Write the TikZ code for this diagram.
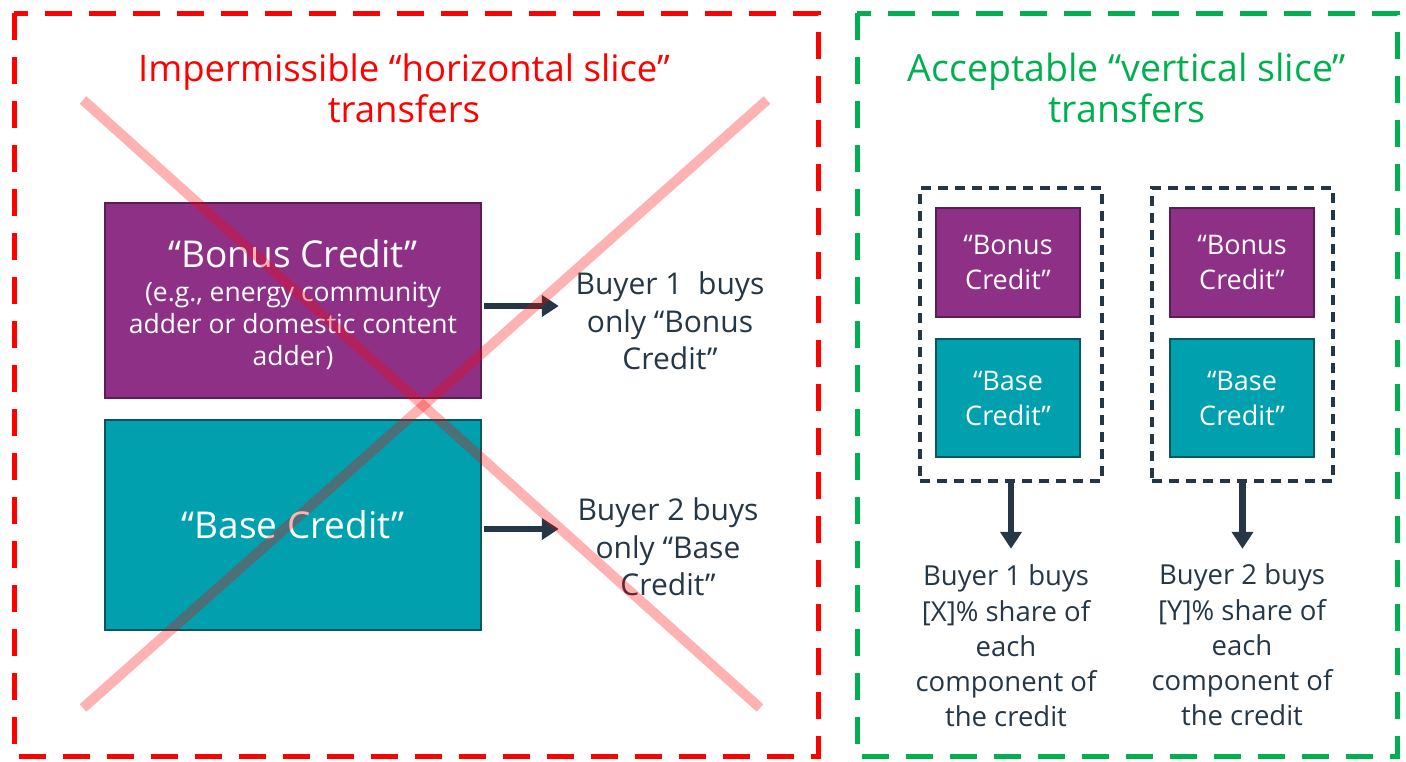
\documentclass[tikz,border=0pt]{standalone}
\usepackage{fontspec}
\setmainfont{Open Sans}
\usetikzlibrary{arrows.meta}
\definecolor{credpurple}{RGB}{143,48,135}
\definecolor{purpleedge}{RGB}{90,30,85}
\definecolor{credteal}{RGB}{0,160,175}
\definecolor{tealedge}{RGB}{10,85,95}
\definecolor{navy}{RGB}{37,55,70}
\definecolor{okgreen}{RGB}{0,176,80}
\tikzset{
  frame/.style={line width=5pt, dash pattern=on 27pt off 17pt},
  innerframe/.style={draw=navy, line width=3.5pt, dash pattern=on 10pt off 7pt},
  bonusbox/.style={draw=purpleedge, line width=1.5pt, fill=credpurple, text=white, align=center, inner sep=0pt},
  basebox/.style={draw=tealedge, line width=1.5pt, fill=credteal, text=white, align=center, inner sep=0pt},
  label/.style={text=navy, align=center, inner sep=0pt},
  flow/.style={draw=navy, line width=6.5pt, -{Triangle[length=17pt,width=21pt]}},
  cross/.style={draw=red, line width=10pt, opacity=0.3}
}
\begin{document}
\begin{tikzpicture}[x=1pt,y=-1pt]
\useasboundingbox (0,0) rectangle (1406,761);
% outer frames
\draw[frame, draw=red] (14,13) rectangle (818,756);
\draw[frame, draw=okgreen] (857,13) rectangle (1397,756);

% titles
\node[text=red, align=center, font=\fontsize{36.5}{41}\selectfont] (ttlA) at (404,88)
  {Impermissible “horizontal slice”\\transfers};
\node[text=okgreen, align=center, font=\fontsize{37.5}{41}\selectfont] (ttlB) at (1127,88)
  {Acceptable “vertical slice”\\transfers};

% horizontal slices
\node[bonusbox, minimum width=376pt, minimum height=195pt] (bonus) at (293,300.5) {};
\node[text=white, align=center, font=\fontsize{37}{42}\selectfont] (bonusT) at (293,254) {“Bonus Credit”};
\node[text=white, align=center, font=\fontsize{26.5}{32}\selectfont] (bonusS) at (293,325.5)
  {(e.g., energy community\\adder or domestic content\\adder)};
\node[basebox, minimum width=376pt, minimum height=210pt, font=\fontsize{37}{40}\selectfont] (base) at (293,525) {“Base Credit”};

\node[label, font=\fontsize{30}{37.5}\selectfont] (buy1) at (670,321) {Buyer 1~ buys\\only “Bonus\\Credit”};
\node[label, font=\fontsize{30}{37.5}\selectfont] (buy2) at (668,547) {Buyer 2 buys\\only “Base\\Credit”};

\draw[flow] (bonus.east) ++(2,5.5) -- ++(75,0);
\draw[flow] (base.east) ++(2,4) -- ++(75,0);

% the cross over the slices
\draw[cross] (83,100) coordinate (x1) -- (760,708) coordinate (x2);
\draw[cross] (767,100) coordinate (x3) -- (83,708) coordinate (x4);

% vertical slices
\node[innerframe, minimum width=182pt, minimum height=293pt] (grp1) at (1011,334.5) {};
\node[innerframe, minimum width=181pt, minimum height=293pt] (grp2) at (1242.5,334.5) {};

\node[bonusbox, minimum width=144pt, minimum height=109pt, font=\fontsize{27}{35}\selectfont] (bonus1) at (1008,262.5) {“Bonus\\Credit”};
\node[basebox, minimum width=144pt, minimum height=118pt, font=\fontsize{27}{35}\selectfont] (base1) at (1008,398) {“Base\\Credit”};
\node[bonusbox, minimum width=144pt, minimum height=109pt, font=\fontsize{27}{35}\selectfont] (bonus2) at (1242,262.5) {“Bonus\\Credit”};
\node[basebox, minimum width=144pt, minimum height=118pt, font=\fontsize{27}{35}\selectfont] (base2) at (1242,398) {“Base\\Credit”};

\node[label, font=\fontsize{27.5}{35.2}\selectfont] (share1) at (1006,646) {Buyer 1 buys\\{}[X]\% share of\\each\\component of\\the credit};
\node[label, font=\fontsize{27.5}{35.2}\selectfont] (share2) at (1242,645) {Buyer 2 buys\\{}[Y]\% share of\\each\\component of\\the credit};

\draw[flow] (grp1.south) -- ++(0,66);
\draw[flow] (grp2.south) -- ++(0,66);
\end{tikzpicture}
\end{document}
